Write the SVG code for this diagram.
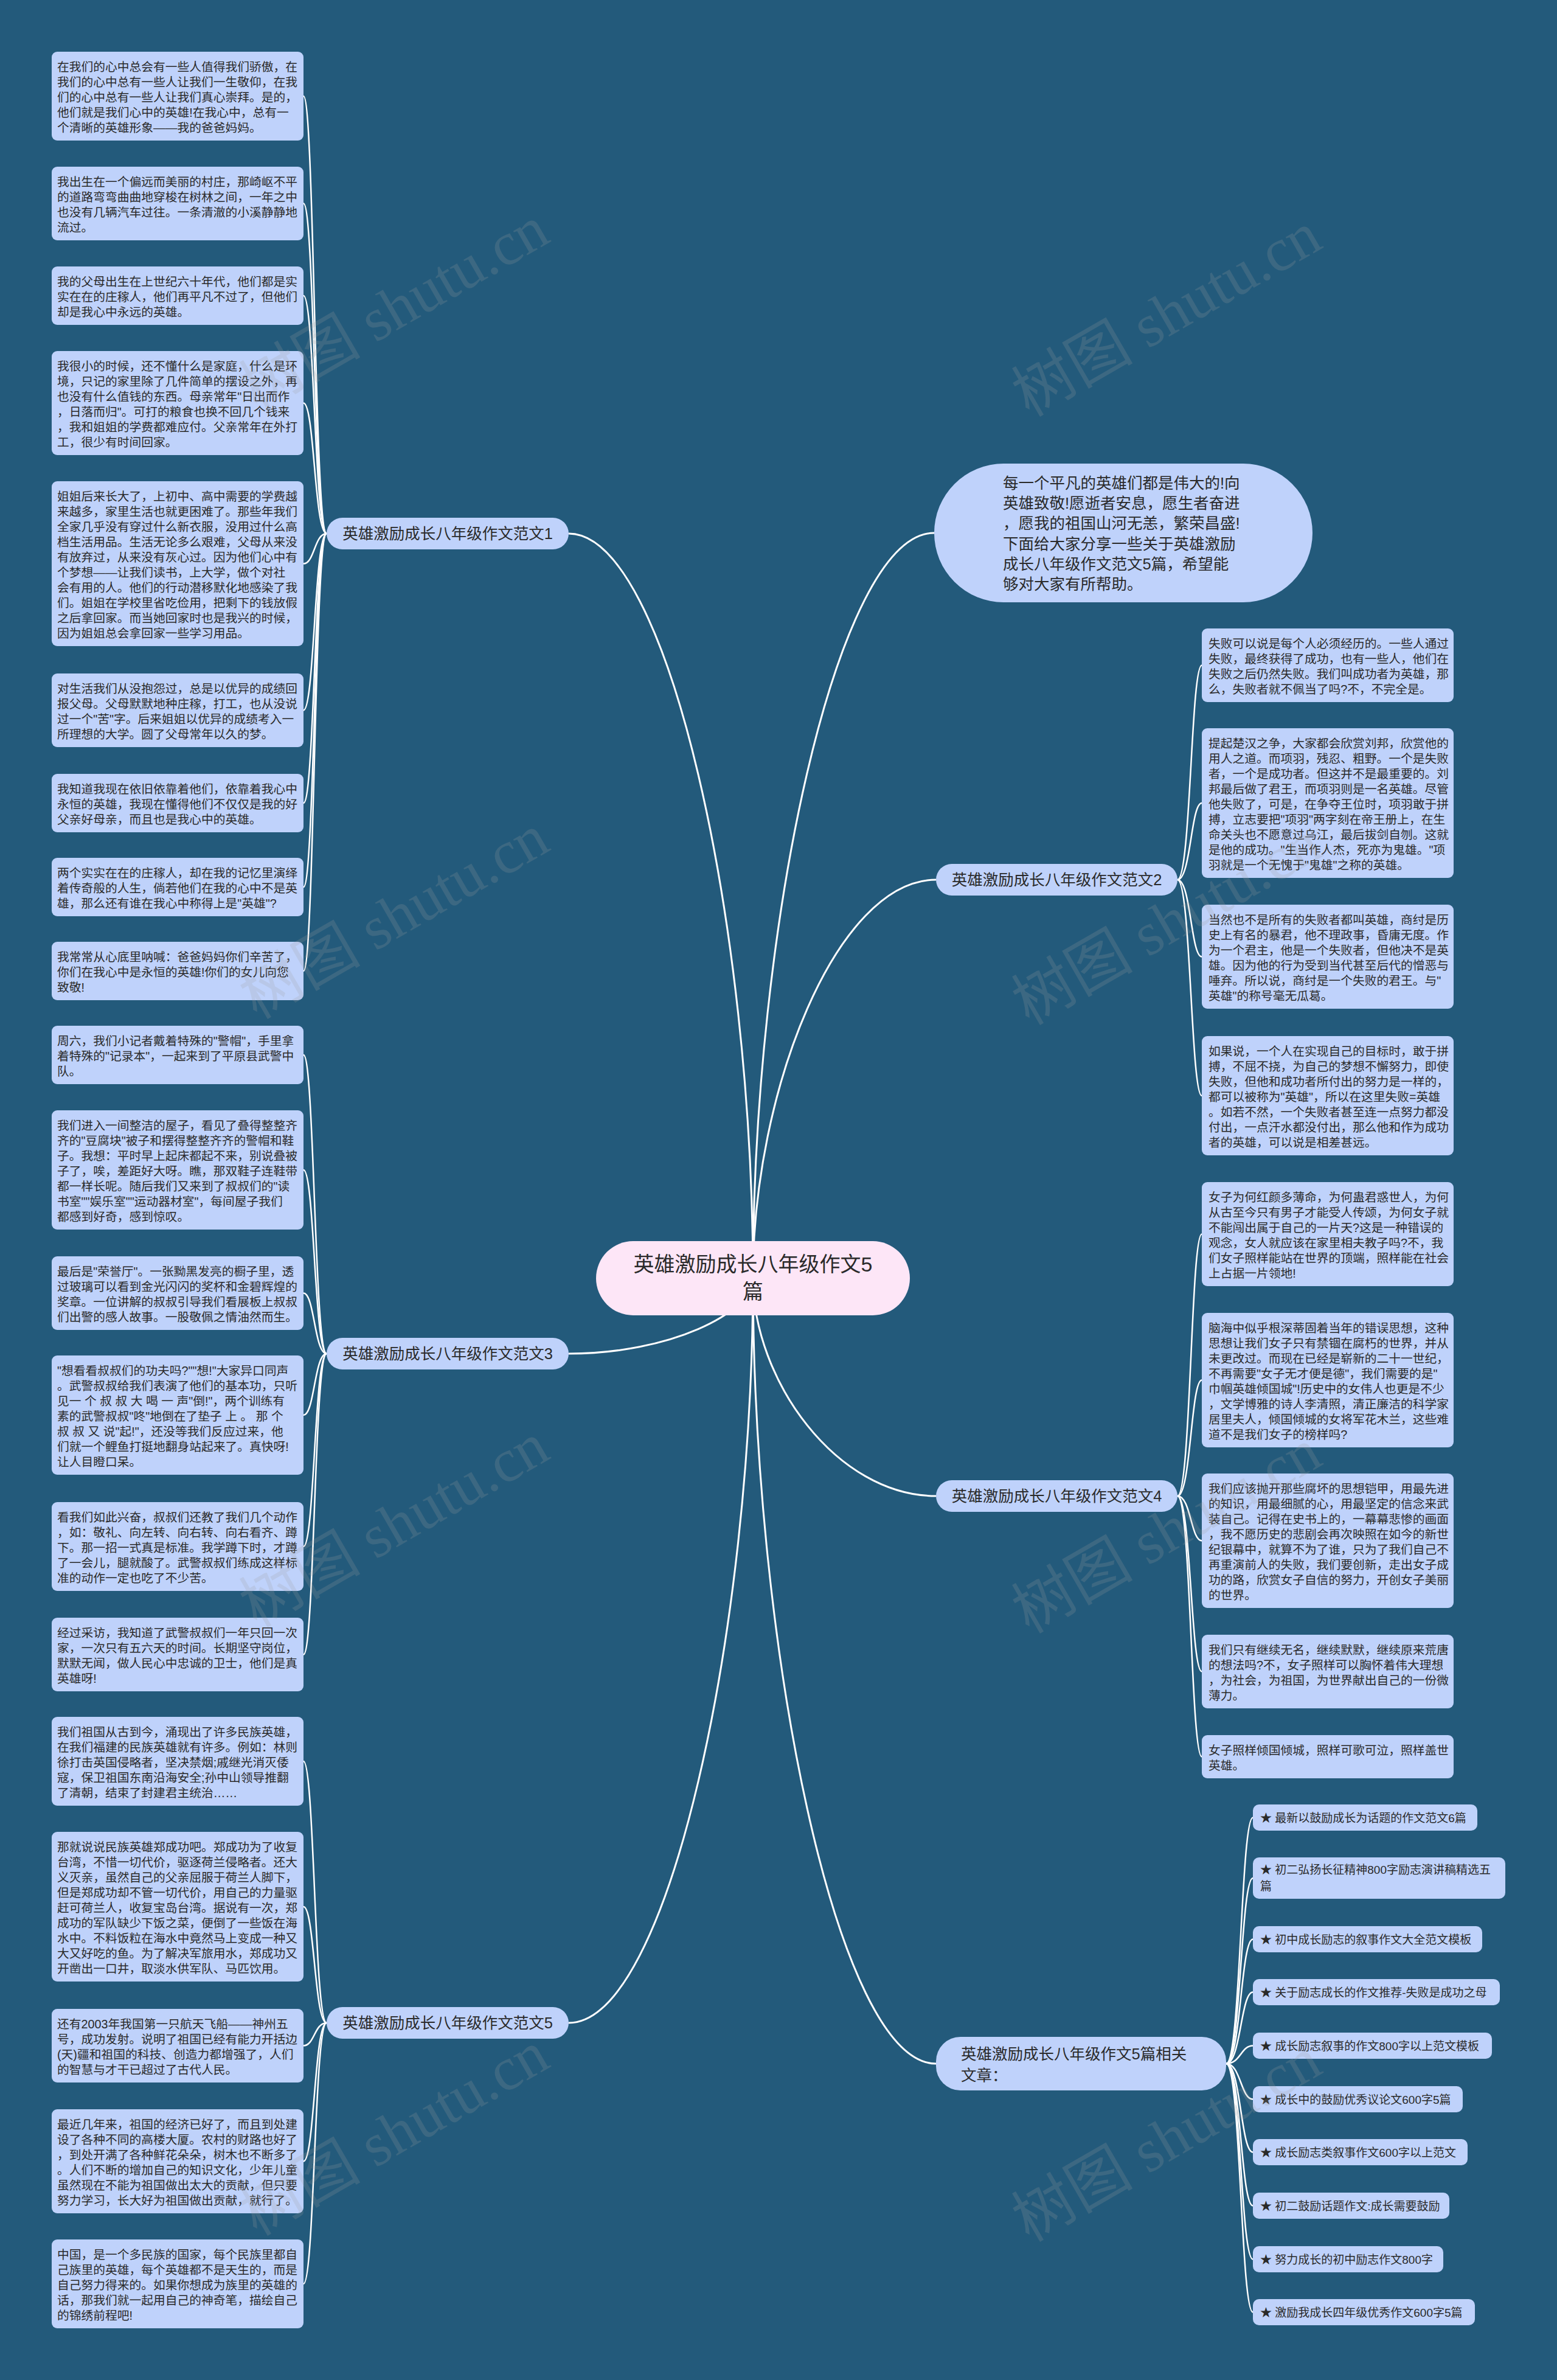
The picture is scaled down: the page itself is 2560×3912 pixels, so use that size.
<svg xmlns="http://www.w3.org/2000/svg" width="2560" height="3912" viewBox="0 0 2560 3912">
<style>
.box{fill:#bfd2fb}
.pill{fill:#bfd2fb}
.t{font-family:"Liberation Sans","Noto Sans CJK SC",sans-serif;font-size:19.75px;fill:#2a2a2a}
.lb{font-family:"Liberation Sans","Noto Sans CJK SC",sans-serif;font-size:25.5px;fill:#2a2a2a}
.rt{font-family:"Liberation Sans","Noto Sans CJK SC",sans-serif;font-size:19px;fill:#2a2a2a}
.ct{font-family:"Liberation Sans","Noto Sans CJK SC",sans-serif;font-size:34px;fill:#2a2a2a}
.main{fill:none;stroke:#ffffff;stroke-width:3}
.sub{fill:none;stroke:#ffffff;stroke-width:2.5}
.wm{font-family:"Liberation Serif","Noto Sans CJK SC",serif;font-size:100px;fill:#a0a0a0;opacity:0.2}
</style>
<rect x="0" y="0" width="2560" height="3912" fill="#235a7b"/>

<g id="connectors">
<path class="main" d="M935 877 C1099 877 1238 1525 1238 2100"/>
<path class="main" d="M1536 876 C1375 876 1238 1525 1238 2100"/>
<path class="main" d="M1539 1446 C1376 1446 1238 1793 1238 2100"/>
<path class="main" d="M935 2225 C1099 2225 1238 2159 1238 2100"/>
<path class="main" d="M1539 2459 C1376 2459 1238 2269 1238 2100"/>
<path class="main" d="M935 3325 C1099 3325 1238 2676 1238 2100"/>
<path class="main" d="M1539 3392 C1376 3392 1238 2707 1238 2100"/>
<path class="sub" d="M537 877 C517 877 517 158 499 158"/>
<path class="sub" d="M537 877 C517 877 517 334.5 499 334.5"/>
<path class="sub" d="M537 877 C517 877 517 486 499 486"/>
<path class="sub" d="M537 877 C517 877 517 662.5 499 662.5"/>
<path class="sub" d="M537 877 C517 877 517 926.5 499 926.5"/>
<path class="sub" d="M537 877 C517 877 517 1167.5 499 1167.5"/>
<path class="sub" d="M537 877 C517 877 517 1320 499 1320"/>
<path class="sub" d="M537 877 C517 877 517 1458 499 1458"/>
<path class="sub" d="M537 877 C517 877 517 1596 499 1596"/>
<path class="sub" d="M537 2225 C517 2225 517 1734 499 1734"/>
<path class="sub" d="M537 2225 C517 2225 517 1923 499 1923"/>
<path class="sub" d="M537 2225 C517 2225 517 2125.5 499 2125.5"/>
<path class="sub" d="M537 2225 C517 2225 517 2326 499 2326"/>
<path class="sub" d="M537 2225 C517 2225 517 2542 499 2542"/>
<path class="sub" d="M537 2225 C517 2225 517 2719.5 499 2719.5"/>
<path class="sub" d="M537 3325 C517 3325 517 2895 499 2895"/>
<path class="sub" d="M537 3325 C517 3325 517 3134 499 3134"/>
<path class="sub" d="M537 3325 C517 3325 517 3362.5 499 3362.5"/>
<path class="sub" d="M537 3325 C517 3325 517 3552.5 499 3552.5"/>
<path class="sub" d="M537 3325 C517 3325 517 3754 499 3754"/>
<path class="sub" d="M1936 1446 C1958 1446 1958 1093.5 1976 1093.5"/>
<path class="sub" d="M1936 1446 C1958 1446 1958 1320 1976 1320"/>
<path class="sub" d="M1936 1446 C1958 1446 1958 1572.5 1976 1572.5"/>
<path class="sub" d="M1936 1446 C1958 1446 1958 1801 1976 1801"/>
<path class="sub" d="M1936 2459 C1958 2459 1958 2028.5 1976 2028.5"/>
<path class="sub" d="M1936 2459 C1958 2459 1958 2268.5 1976 2268.5"/>
<path class="sub" d="M1936 2459 C1958 2459 1958 2532.5 1976 2532.5"/>
<path class="sub" d="M1936 2459 C1958 2459 1958 2747.5 1976 2747.5"/>
<path class="sub" d="M1936 2459 C1958 2459 1958 2887.5 1976 2887.5"/>
<path class="sub" d="M2016 3392 C2040 3392 2040 2987.5 2060 2987.5"/>
<path class="sub" d="M2016 3392 C2040 3392 2040 3087 2060 3087"/>
<path class="sub" d="M2016 3392 C2040 3392 2040 3187.5 2060 3187.5"/>
<path class="sub" d="M2016 3392 C2040 3392 2040 3274.5 2060 3274.5"/>
<path class="sub" d="M2016 3392 C2040 3392 2040 3362.5 2060 3362.5"/>
<path class="sub" d="M2016 3392 C2040 3392 2040 3450.5 2060 3450.5"/>
<path class="sub" d="M2016 3392 C2040 3392 2040 3537.5 2060 3537.5"/>
<path class="sub" d="M2016 3392 C2040 3392 2040 3625.5 2060 3625.5"/>
<path class="sub" d="M2016 3392 C2040 3392 2040 3713.5 2060 3713.5"/>
<path class="sub" d="M2016 3392 C2040 3392 2040 3800.5 2060 3800.5"/>
</g>

<g id="center">
<rect x="980" y="2040" width="516" height="122" rx="61" fill="#fde6f7"/>
<text class="ct" text-anchor="middle"><tspan x="1238" y="2090">英雄激励成长八年级作文5</tspan><tspan x="1238" y="2135">篇</tspan></text>
</g>

<g id="intro">
<rect x="1536" y="762" width="622" height="228" rx="114" class="pill"/>
<text class="lb"><tspan x="1649" y="803">每一个平凡的英雄们都是伟大的!向</tspan><tspan x="1649" y="836">英雄致敬!愿逝者安息，愿生者奋进</tspan><tspan x="1649" y="869">，愿我的祖国山河无恙，繁荣昌盛!</tspan><tspan x="1649" y="903">下面给大家分享一些关于英雄激励</tspan><tspan x="1649" y="936">成长八年级作文范文5篇，希望能</tspan><tspan x="1649" y="969">够对大家有所帮助。</tspan></text>
</g>

<g id="label1"><rect x="537" y="851" width="398" height="52" rx="26" class="pill"/><text class="lb" x="736" y="886" text-anchor="middle">英雄激励成长八年级作文范文1</text></g>
<g id="label2"><rect x="1539" y="1420" width="397" height="52" rx="26" class="pill"/><text class="lb" x="1737.5" y="1455" text-anchor="middle">英雄激励成长八年级作文范文2</text></g>
<g id="label3"><rect x="537" y="2199" width="398" height="52" rx="26" class="pill"/><text class="lb" x="736" y="2234" text-anchor="middle">英雄激励成长八年级作文范文3</text></g>
<g id="label4"><rect x="1539" y="2433" width="397" height="52" rx="26" class="pill"/><text class="lb" x="1737.5" y="2468" text-anchor="middle">英雄激励成长八年级作文范文4</text></g>
<g id="label5"><rect x="537" y="3299" width="398" height="52" rx="26" class="pill"/><text class="lb" x="736" y="3334" text-anchor="middle">英雄激励成长八年级作文范文5</text></g>
<g id="label6"><rect x="1539" y="3348" width="477" height="88" rx="40" class="pill"/><text class="lb"><tspan x="1580" y="3385">英雄激励成长八年级作文5篇相关</tspan><tspan x="1580" y="3420">文章：</tspan></text></g>

<g id="a1"><rect class="box" x="85" y="85" width="414" height="146" rx="9"/><text class="t"><tspan x="94" y="117">在我们的心中总会有一些人值得我们骄傲，在</tspan><tspan x="94" y="142">我们的心中总有一些人让我们一生敬仰，在我</tspan><tspan x="94" y="167">们的心中总有一些人让我们真心崇拜。是的，</tspan><tspan x="94" y="192">他们就是我们心中的英雄!在我心中，总有一</tspan><tspan x="94" y="217">个清晰的英雄形象——我的爸爸妈妈。</tspan></text></g>
<g id="a2"><rect class="box" x="85" y="274" width="414" height="121" rx="9"/><text class="t"><tspan x="94" y="306">我出生在一个偏远而美丽的村庄，那崎岖不平</tspan><tspan x="94" y="331">的道路弯弯曲曲地穿梭在树林之间，一年之中</tspan><tspan x="94" y="356">也没有几辆汽车过往。一条清澈的小溪静静地</tspan><tspan x="94" y="381">流过。</tspan></text></g>
<g id="a3"><rect class="box" x="85" y="438" width="414" height="96" rx="9"/><text class="t"><tspan x="94" y="470">我的父母出生在上世纪六十年代，他们都是实</tspan><tspan x="94" y="495">实在在的庄稼人，他们再平凡不过了，但他们</tspan><tspan x="94" y="520">却是我心中永远的英雄。</tspan></text></g>
<g id="a4"><rect class="box" x="85" y="577" width="414" height="171" rx="9"/><text class="t"><tspan x="94" y="609">我很小的时候，还不懂什么是家庭，什么是环</tspan><tspan x="94" y="634">境，只记的家里除了几件简单的摆设之外，再</tspan><tspan x="94" y="659">也没有什么值钱的东西。母亲常年"日出而作</tspan><tspan x="94" y="684">，日落而归"。可打的粮食也换不回几个钱来</tspan><tspan x="94" y="709">，我和姐姐的学费都难应付。父亲常年在外打</tspan><tspan x="94" y="734">工，很少有时间回家。</tspan></text></g>
<g id="a5"><rect class="box" x="85" y="791" width="414" height="271" rx="9"/><text class="t"><tspan x="94" y="823">姐姐后来长大了，上初中、高中需要的学费越</tspan><tspan x="94" y="848">来越多，家里生活也就更困难了。那些年我们</tspan><tspan x="94" y="873">全家几乎没有穿过什么新衣服，没用过什么高</tspan><tspan x="94" y="898">档生活用品。生活无论多么艰难，父母从来没</tspan><tspan x="94" y="923">有放弃过，从来没有灰心过。因为他们心中有</tspan><tspan x="94" y="948">个梦想——让我们读书，上大学，做个对社</tspan><tspan x="94" y="973">会有用的人。他们的行动潜移默化地感染了我</tspan><tspan x="94" y="998">们。姐姐在学校里省吃俭用，把剩下的钱放假</tspan><tspan x="94" y="1023">之后拿回家。而当她回家时也是我兴的时候，</tspan><tspan x="94" y="1048">因为姐姐总会拿回家一些学习用品。</tspan></text></g>
<g id="a6"><rect class="box" x="85" y="1107" width="414" height="121" rx="9"/><text class="t"><tspan x="94" y="1139">对生活我们从没抱怨过，总是以优异的成绩回</tspan><tspan x="94" y="1164">报父母。父母默默地种庄稼，打工，也从没说</tspan><tspan x="94" y="1189">过一个"苦"字。后来姐姐以优异的成绩考入一</tspan><tspan x="94" y="1214">所理想的大学。圆了父母常年以久的梦。</tspan></text></g>
<g id="a7"><rect class="box" x="85" y="1272" width="414" height="96" rx="9"/><text class="t"><tspan x="94" y="1304">我知道我现在依旧依靠着他们，依靠着我心中</tspan><tspan x="94" y="1329">永恒的英雄，我现在懂得他们不仅仅是我的好</tspan><tspan x="94" y="1354">父亲好母亲，而且也是我心中的英雄。</tspan></text></g>
<g id="a8"><rect class="box" x="85" y="1410" width="414" height="96" rx="9"/><text class="t"><tspan x="94" y="1442">两个实实在在的庄稼人，却在我的记忆里演绎</tspan><tspan x="94" y="1467">着传奇般的人生，倘若他们在我的心中不是英</tspan><tspan x="94" y="1492">雄，那么还有谁在我心中称得上是"英雄"?</tspan></text></g>
<g id="a9"><rect class="box" x="85" y="1548" width="414" height="96" rx="9"/><text class="t"><tspan x="94" y="1580">我常常从心底里呐喊：爸爸妈妈你们辛苦了，</tspan><tspan x="94" y="1605">你们在我心中是永恒的英雄!你们的女儿向您</tspan><tspan x="94" y="1630">致敬!</tspan></text></g>

<g id="b1"><rect class="box" x="85" y="1686" width="414" height="96" rx="9"/><text class="t"><tspan x="94" y="1718">周六，我们小记者戴着特殊的"警帽"，手里拿</tspan><tspan x="94" y="1743">着特殊的"记录本"，一起来到了平原县武警中</tspan><tspan x="94" y="1768">队。</tspan></text></g>
<g id="b2"><rect class="box" x="85" y="1825" width="414" height="196" rx="9"/><text class="t"><tspan x="94" y="1857">我们进入一间整洁的屋子，看见了叠得整整齐</tspan><tspan x="94" y="1882">齐的"豆腐块"被子和摆得整整齐齐的警帽和鞋</tspan><tspan x="94" y="1907">子。我想：平时早上起床都起不来，别说叠被</tspan><tspan x="94" y="1932">子了，唉，差距好大呀。瞧，那双鞋子连鞋带</tspan><tspan x="94" y="1957">都一样长呢。随后我们又来到了叔叔们的"读</tspan><tspan x="94" y="1982">书室""娱乐室""运动器材室"，每间屋子我们</tspan><tspan x="94" y="2007">都感到好奇，感到惊叹。</tspan></text></g>
<g id="b3"><rect class="box" x="85" y="2065" width="414" height="121" rx="9"/><text class="t"><tspan x="94" y="2097">最后是"荣誉厅"。一张黝黑发亮的橱子里，透</tspan><tspan x="94" y="2122">过玻璃可以看到金光闪闪的奖杯和金碧辉煌的</tspan><tspan x="94" y="2147">奖章。一位讲解的叔叔引导我们看展板上叔叔</tspan><tspan x="94" y="2172">们出警的感人故事。一股敬佩之情油然而生。</tspan></text></g>
<g id="b4"><rect class="box" x="85" y="2228" width="414" height="196" rx="9"/><text class="t"><tspan x="94" y="2260">"想看看叔叔们的功夫吗?""想!"大家异口同声</tspan><tspan x="94" y="2285">。武警叔叔给我们表演了他们的基本功，只听</tspan><tspan x="94" y="2310">见一 个 叔 叔 大 喝 一 声"倒!"，两个训练有</tspan><tspan x="94" y="2335">素的武警叔叔"咚"地倒在了垫子 上 。 那 个</tspan><tspan x="94" y="2360">叔 叔 又 说"起!"，还没等我们反应过来，他</tspan><tspan x="94" y="2385">们就一个鲤鱼打挺地翻身站起来了。真快呀!</tspan><tspan x="94" y="2410">让人目瞪口呆。</tspan></text></g>
<g id="b5"><rect class="box" x="85" y="2469" width="414" height="146" rx="9"/><text class="t"><tspan x="94" y="2501">看我们如此兴奋，叔叔们还教了我们几个动作</tspan><tspan x="94" y="2526">，如：敬礼、向左转、向右转、向右看齐、蹲</tspan><tspan x="94" y="2551">下。那一招一式真是标准。我学蹲下时，才蹲</tspan><tspan x="94" y="2576">了一会儿，腿就酸了。武警叔叔们练成这样标</tspan><tspan x="94" y="2601">准的动作一定也吃了不少苦。</tspan></text></g>
<g id="b6"><rect class="box" x="85" y="2659" width="414" height="121" rx="9"/><text class="t"><tspan x="94" y="2691">经过采访，我知道了武警叔叔们一年只回一次</tspan><tspan x="94" y="2716">家，一次只有五六天的时间。长期坚守岗位，</tspan><tspan x="94" y="2741">默默无闻，做人民心中忠诚的卫士，他们是真</tspan><tspan x="94" y="2766">英雄呀!</tspan></text></g>

<g id="c1"><rect class="box" x="85" y="2822" width="414" height="146" rx="9"/><text class="t"><tspan x="94" y="2854">我们祖国从古到今，涌现出了许多民族英雄，</tspan><tspan x="94" y="2879">在我们福建的民族英雄就有许多。例如：林则</tspan><tspan x="94" y="2904">徐打击英国侵略者，坚决禁烟;戚继光消灭倭</tspan><tspan x="94" y="2929">寇，保卫祖国东南沿海安全;孙中山领导推翻</tspan><tspan x="94" y="2954">了清朝，结束了封建君主统治……</tspan></text></g>
<g id="c2"><rect class="box" x="85" y="3011" width="414" height="246" rx="9"/><text class="t"><tspan x="94" y="3043">那就说说民族英雄郑成功吧。郑成功为了收复</tspan><tspan x="94" y="3068">台湾，不惜一切代价，驱逐荷兰侵略者。还大</tspan><tspan x="94" y="3093">义灭亲，虽然自己的父亲屈服于荷兰人脚下，</tspan><tspan x="94" y="3118">但是郑成功却不管一切代价，用自己的力量驱</tspan><tspan x="94" y="3143">赶可荷兰人，收复宝岛台湾。据说有一次，郑</tspan><tspan x="94" y="3168">成功的军队缺少下饭之菜，便倒了一些饭在海</tspan><tspan x="94" y="3193">水中。不料饭粒在海水中竟然马上变成一种又</tspan><tspan x="94" y="3218">大又好吃的鱼。为了解决军旅用水，郑成功又</tspan><tspan x="94" y="3243">开凿出一口井，取淡水供军队、马匹饮用。</tspan></text></g>
<g id="c3"><rect class="box" x="85" y="3302" width="414" height="121" rx="9"/><text class="t"><tspan x="94" y="3334">还有2003年我国第一只航天飞船——神州五</tspan><tspan x="94" y="3359">号，成功发射。说明了祖国已经有能力开括边</tspan><tspan x="94" y="3384">(天)疆和祖国的科技、创造力都增强了，人们</tspan><tspan x="94" y="3409">的智慧与才干已超过了古代人民。</tspan></text></g>
<g id="c4"><rect class="box" x="85" y="3467" width="414" height="171" rx="9"/><text class="t"><tspan x="94" y="3499">最近几年来，祖国的经济已好了，而且到处建</tspan><tspan x="94" y="3524">设了各种不同的高楼大厦。农村的财路也好了</tspan><tspan x="94" y="3549">，到处开满了各种鲜花朵朵，树木也不断多了</tspan><tspan x="94" y="3574">。人们不断的增加自己的知识文化，少年儿童</tspan><tspan x="94" y="3599">虽然现在不能为祖国做出太大的贡献，但只要</tspan><tspan x="94" y="3624">努力学习，长大好为祖国做出贡献，就行了。</tspan></text></g>
<g id="c5"><rect class="box" x="85" y="3681" width="414" height="146" rx="9"/><text class="t"><tspan x="94" y="3713">中国，是一个多民族的国家，每个民族里都自</tspan><tspan x="94" y="3738">己族里的英雄，每个英雄都不是天生的，而是</tspan><tspan x="94" y="3763">自己努力得来的。如果你想成为族里的英雄的</tspan><tspan x="94" y="3788">话，那我们就一起用自己的神奇笔，描绘自己</tspan><tspan x="94" y="3813">的锦绣前程吧!</tspan></text></g>

<g id="d1"><rect class="box" x="1976" y="1033" width="414" height="121" rx="9"/><text class="t"><tspan x="1987" y="1065">失败可以说是每个人必须经历的。一些人通过</tspan><tspan x="1987" y="1090">失败，最终获得了成功，也有一些人，他们在</tspan><tspan x="1987" y="1115">失败之后仍然失败。我们叫成功者为英雄，那</tspan><tspan x="1987" y="1140">么，失败者就不佩当了吗?不，不完全是。</tspan></text></g>
<g id="d2"><rect class="box" x="1976" y="1197" width="414" height="246" rx="9"/><text class="t"><tspan x="1987" y="1229">提起楚汉之争，大家都会欣赏刘邦，欣赏他的</tspan><tspan x="1987" y="1254">用人之道。而项羽，残忍、粗野。一个是失败</tspan><tspan x="1987" y="1279">者，一个是成功者。但这并不是最重要的。刘</tspan><tspan x="1987" y="1304">邦最后做了君王，而项羽则是一名英雄。尽管</tspan><tspan x="1987" y="1329">他失败了，可是，在争夺王位时，项羽敢于拼</tspan><tspan x="1987" y="1354">搏，立志要把"项羽"两字刻在帝王册上，在生</tspan><tspan x="1987" y="1379">命关头也不愿意过乌江，最后拔剑自刎。这就</tspan><tspan x="1987" y="1404">是他的成功。"生当作人杰，死亦为鬼雄。"项</tspan><tspan x="1987" y="1429">羽就是一个无愧于"鬼雄"之称的英雄。</tspan></text></g>
<g id="d3"><rect class="box" x="1976" y="1487" width="414" height="171" rx="9"/><text class="t"><tspan x="1987" y="1519">当然也不是所有的失败者都叫英雄，商纣是历</tspan><tspan x="1987" y="1544">史上有名的暴君，他不理政事，昏庸无度。作</tspan><tspan x="1987" y="1569">为一个君主，他是一个失败者，但他决不是英</tspan><tspan x="1987" y="1594">雄。因为他的行为受到当代甚至后代的憎恶与</tspan><tspan x="1987" y="1619">唾弃。所以说，商纣是一个失败的君王。与"</tspan><tspan x="1987" y="1644">英雄"的称号毫无瓜葛。</tspan></text></g>
<g id="d4"><rect class="box" x="1976" y="1703" width="414" height="196" rx="9"/><text class="t"><tspan x="1987" y="1735">如果说，一个人在实现自己的目标时，敢于拼</tspan><tspan x="1987" y="1760">搏，不屈不挠，为自己的梦想不懈努力，即使</tspan><tspan x="1987" y="1785">失败，但他和成功者所付出的努力是一样的，</tspan><tspan x="1987" y="1810">都可以被称为"英雄"，所以在这里失败=英雄</tspan><tspan x="1987" y="1835">。如若不然，一个失败者甚至连一点努力都没</tspan><tspan x="1987" y="1860">付出，一点汗水都没付出，那么他和作为成功</tspan><tspan x="1987" y="1885">者的英雄，可以说是相差甚远。</tspan></text></g>

<g id="e1"><rect class="box" x="1976" y="1943" width="414" height="171" rx="9"/><text class="t"><tspan x="1987" y="1975">女子为何红颜多薄命，为何蛊君惑世人，为何</tspan><tspan x="1987" y="2000">从古至今只有男子才能受人传颂，为何女子就</tspan><tspan x="1987" y="2025">不能闯出属于自己的一片天?这是一种错误的</tspan><tspan x="1987" y="2050">观念，女人就应该在家里相夫教子吗?不，我</tspan><tspan x="1987" y="2075">们女子照样能站在世界的顶端，照样能在社会</tspan><tspan x="1987" y="2100">上占据一片领地!</tspan></text></g>
<g id="e2"><rect class="box" x="1976" y="2158" width="414" height="221" rx="9"/><text class="t"><tspan x="1987" y="2190">脑海中似乎根深蒂固着当年的错误思想，这种</tspan><tspan x="1987" y="2215">思想让我们女子只有禁锢在腐朽的世界，并从</tspan><tspan x="1987" y="2240">未更改过。而现在已经是崭新的二十一世纪，</tspan><tspan x="1987" y="2265">不再需要"女子无才便是德"，我们需要的是"</tspan><tspan x="1987" y="2290">巾帼英雄倾国城"!历史中的女伟人也更是不少</tspan><tspan x="1987" y="2315">，文学博雅的诗人李清照，清正廉洁的科学家</tspan><tspan x="1987" y="2340">居里夫人，倾国倾城的女将军花木兰，这些难</tspan><tspan x="1987" y="2365">道不是我们女子的榜样吗?</tspan></text></g>
<g id="e3"><rect class="box" x="1976" y="2422" width="414" height="221" rx="9"/><text class="t"><tspan x="1987" y="2454">我们应该抛开那些腐坏的思想铠甲，用最先进</tspan><tspan x="1987" y="2479">的知识，用最细腻的心，用最坚定的信念来武</tspan><tspan x="1987" y="2504">装自己。记得在史书上的，一幕幕悲惨的画面</tspan><tspan x="1987" y="2529">，我不愿历史的悲剧会再次映照在如今的新世</tspan><tspan x="1987" y="2554">纪银幕中，就算不为了谁，只为了我们自己不</tspan><tspan x="1987" y="2579">再重演前人的失败，我们要创新，走出女子成</tspan><tspan x="1987" y="2604">功的路，欣赏女子自信的努力，开创女子美丽</tspan><tspan x="1987" y="2629">的世界。</tspan></text></g>
<g id="e4"><rect class="box" x="1976" y="2687" width="414" height="121" rx="9"/><text class="t"><tspan x="1987" y="2719">我们只有继续无名，继续默默，继续原来荒唐</tspan><tspan x="1987" y="2744">的想法吗?不，女子照样可以胸怀着伟大理想</tspan><tspan x="1987" y="2769">，为社会，为祖国，为世界献出自己的一份微</tspan><tspan x="1987" y="2794">薄力。</tspan></text></g>
<g id="e5"><rect class="box" x="1976" y="2852" width="414" height="71" rx="9"/><text class="t"><tspan x="1987" y="2884">女子照样倾国倾城，照样可歌可泣，照样盖世</tspan><tspan x="1987" y="2909">英雄。</tspan></text></g>

<g id="r1"><rect class="box" x="2060" y="2966" width="369" height="43" rx="10"/><text class="rt" x="2072" y="2995">★ 最新以鼓励成长为话题的作文范文6篇</text></g>
<g id="r2"><rect class="box" x="2060" y="3053" width="415" height="68" rx="10"/><text class="rt"><tspan x="2072" y="3080">★ 初二弘扬长征精神800字励志演讲稿精选五</tspan><tspan x="2072" y="3107">篇</tspan></text></g>
<g id="r3"><rect class="box" x="2060" y="3166" width="377" height="43" rx="10"/><text class="rt" x="2072" y="3195">★ 初中成长励志的叙事作文大全范文模板</text></g>
<g id="r4"><rect class="box" x="2060" y="3253" width="406" height="43" rx="10"/><text class="rt" x="2072" y="3282">★ 关于励志成长的作文推荐-失败是成功之母</text></g>
<g id="r5"><rect class="box" x="2060" y="3341" width="393" height="43" rx="10"/><text class="rt" x="2072" y="3370">★ 成长励志叙事的作文800字以上范文模板</text></g>
<g id="r6"><rect class="box" x="2060" y="3429" width="345" height="43" rx="10"/><text class="rt" x="2072" y="3458">★ 成长中的鼓励优秀议论文600字5篇</text></g>
<g id="r7"><rect class="box" x="2060" y="3516" width="353" height="43" rx="10"/><text class="rt" x="2072" y="3545">★ 成长励志类叙事作文600字以上范文</text></g>
<g id="r8"><rect class="box" x="2060" y="3604" width="323" height="43" rx="10"/><text class="rt" x="2072" y="3633">★ 初二鼓励话题作文:成长需要鼓励</text></g>
<g id="r9"><rect class="box" x="2060" y="3692" width="313" height="43" rx="10"/><text class="rt" x="2072" y="3721">★ 努力成长的初中励志作文800字</text></g>
<g id="r10"><rect class="box" x="2060" y="3779" width="365" height="43" rx="10"/><text class="rt" x="2072" y="3808">★ 激励我成长四年级优秀作文600字5篇</text></g>

<g id="watermark">
<text class="wm" x="650" y="540" text-anchor="middle" transform="rotate(-30 650 510)">树图 shutu.cn</text>
<text class="wm" x="1920" y="550" text-anchor="middle" transform="rotate(-30 1920 520)">树图 shutu.cn</text>
<text class="wm" x="650" y="1540" text-anchor="middle" transform="rotate(-30 650 1510)">树图 shutu.cn</text>
<text class="wm" x="1920" y="1550" text-anchor="middle" transform="rotate(-30 1920 1520)">树图 shutu.cn</text>
<text class="wm" x="650" y="2540" text-anchor="middle" transform="rotate(-30 650 2510)">树图 shutu.cn</text>
<text class="wm" x="1920" y="2550" text-anchor="middle" transform="rotate(-30 1920 2520)">树图 shutu.cn</text>
<text class="wm" x="650" y="3540" text-anchor="middle" transform="rotate(-30 650 3510)">树图 shutu.cn</text>
<text class="wm" x="1920" y="3550" text-anchor="middle" transform="rotate(-30 1920 3520)">树图 shutu.cn</text>
</g>
</svg>
